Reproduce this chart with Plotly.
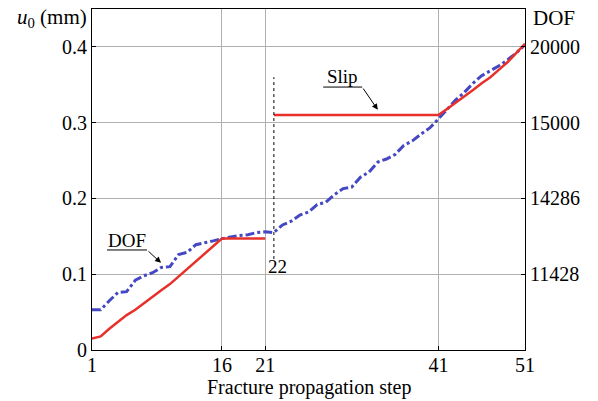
import plotly.graph_objects as go

steps = list(range(1, 52))
dof_curve = [0.053, 0.053, 0.065, 0.076, 0.077, 0.092, 0.098, 0.102, 0.109, 0.110,
             0.126, 0.129, 0.139, 0.141, 0.144, 0.147, 0.149, 0.151, 0.152, 0.155,
             0.156, 0.155, 0.165, 0.170, 0.178, 0.182, 0.192, 0.195, 0.205, 0.213,
             0.215, 0.228, 0.235, 0.248, 0.252, 0.258, 0.270, 0.276, 0.285, 0.293,
             0.305, 0.318, 0.330, 0.340, 0.352, 0.362, 0.368, 0.375, 0.383, 0.392,
             0.403]
u0_steps_a = list(range(1, 22))
u0_a = [0.015, 0.018, 0.028, 0.037, 0.046, 0.053, 0.062, 0.071, 0.079, 0.087,
        0.097, 0.107, 0.116, 0.127, 0.137, 0.147, 0.147, 0.147, 0.147, 0.147, 0.147]
u0_steps_b = list(range(22, 52))
u0_b = [0.31] * 20 + [0.318, 0.326, 0.334, 0.343, 0.352, 0.360, 0.370, 0.380, 0.392, 0.404]

x_ticks = [1, 16, 21, 41, 51]
y_ticks = [0, 0.1, 0.2, 0.3, 0.4]
y_tick_text = ["0", "0.1", "0.2", "0.3", "0.4"]
dof_tick_vals = [0.1, 0.2, 0.3, 0.4]
dof_tick_text = ["11428", "14286", "15000", "20000"]

FONT = "Liberation Serif, Times New Roman, serif"
fig = go.Figure()
fig.add_trace(go.Scatter(x=steps, y=dof_curve, mode="lines",
                         line=dict(color="#4448c2", width=3, dash="dashdot")))
fig.add_trace(go.Scatter(x=u0_steps_a, y=u0_a, mode="lines",
                         line=dict(color="#e8302a", width=2.5)))
fig.add_trace(go.Scatter(x=u0_steps_b, y=u0_b, mode="lines",
                         line=dict(color="#e8302a", width=2.5)))
# dashed marker at step 22
fig.add_trace(go.Scatter(x=[22, 22], y=[0.12, 0.36], mode="lines",
                         line=dict(color="black", width=1, dash="3px,3px")))
fig.add_trace(go.Scatter(x=[1], y=[0], yaxis="y2", mode="markers",
                         marker=dict(opacity=0), hoverinfo="skip"))

tf = dict(family=FONT, size=20, color="black")
fig.update_layout(
    width=598, height=401, showlegend=False,
    margin=dict(l=92, r=73, t=9, b=51),
    plot_bgcolor="white", paper_bgcolor="white",
    font=dict(family=FONT, size=20, color="black"),
    xaxis=dict(range=[1, 51], tickvals=x_ticks, ticktext=[str(v) for v in x_ticks],
               showgrid=True, gridcolor="#b0b0b0", gridwidth=1,
               showline=True, linecolor="black", linewidth=1, mirror=True,
               ticks="inside", ticklen=4, tickcolor="black", tickfont=tf,
               ticklabelstandoff=-3, zeroline=False),
    yaxis=dict(range=[0, 0.45], tickvals=y_ticks, ticktext=y_tick_text,
               showgrid=True, gridcolor="#b0b0b0", gridwidth=1,
               showline=True, linecolor="black", linewidth=1, mirror=True,
               ticks="inside", ticklen=4, tickcolor="black", tickfont=tf,
               zeroline=False),
    yaxis2=dict(range=[0, 0.45], overlaying="y", side="right",
                tickvals=dof_tick_vals, ticktext=dof_tick_text,
                showgrid=False, zeroline=False, showline=False,
                ticks="inside", ticklen=4, tickcolor="black", tickfont=tf,
                ticklabelstandoff=4),
)

# x-axis title
fig.add_annotation(xref="paper", yref="paper", x=0.5, y=0, yshift=-37, xanchor="center",
                   yanchor="middle", text="Fracture propagation step", showarrow=False,
                   font=dict(family=FONT, size=20))
fig.add_annotation(xref="paper", yref="paper", x=0, xshift=-3, y=0.975, xanchor="right", yanchor="middle",
                   text="<i>u</i><sub>0</sub> (mm)", showarrow=False, font=dict(family=FONT, size=21))
fig.add_annotation(xref="paper", yref="paper", x=1, xshift=6, y=0.975, xanchor="left", yanchor="middle",
                   text="DOF", showarrow=False, font=dict(family=FONT, size=21))
# DOF label
fig.add_annotation(x=5.0, y=0.145, text="DOF", showarrow=False, font=dict(family=FONT, size=19))
fig.add_shape(type="line", x0=2.73, x1=7.35, y0=0.132, y1=0.132, line=dict(color="black", width=1))
fig.add_annotation(x=8.97, y=0.115, ax=7.35, ay=0.132, axref="x", ayref="y", text="",
                   showarrow=True, arrowhead=2, arrowsize=1.2, arrowwidth=1, arrowcolor="black")
# Slip label
fig.add_annotation(x=29.9, y=0.361, text="Slip", showarrow=False, font=dict(family=FONT, size=19))
fig.add_shape(type="line", x0=27.7, x1=32.2, y0=0.347, y1=0.347, line=dict(color="black", width=1))
fig.add_annotation(x=34.0, y=0.317, ax=32.2, ay=0.347, axref="x", ayref="y", text="",
                   showarrow=True, arrowhead=2, arrowsize=1.2, arrowwidth=1, arrowcolor="black")
# 22 label
fig.add_annotation(x=22.4, y=0.11, text="22", showarrow=False, font=dict(family=FONT, size=19))

fig.write_html("out.html")
